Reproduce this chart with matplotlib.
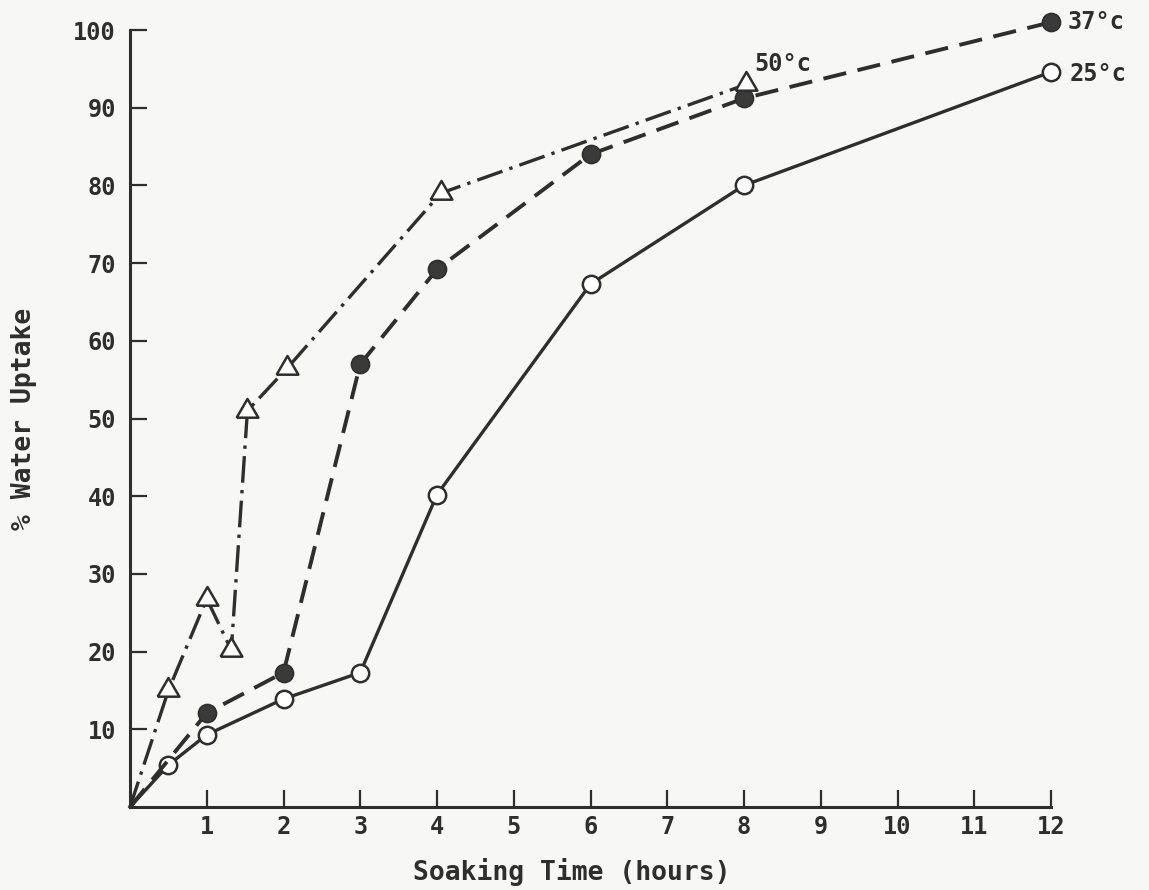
import numpy as np
import matplotlib
matplotlib.use("Agg")
from matplotlib import pyplot as plt

# soaking time (hours) and % water uptake
t_25 = [0, 0.5, 1, 2, 3, 4, 6, 8, 12]
w_25 = [0, 5.4, 9.3, 13.9, 17.3, 40.2, 67.3, 80.0, 94.6]

t_37 = [0, 1, 2, 3, 4, 6, 8, 12]
w_37 = [0, 12.1, 17.3, 57.0, 69.2, 84.0, 91.2, 101.0]

t_50 = [0, 0.5, 1, 1.32, 1.53, 2.05, 4.05, 8.03]
w_50 = [0, 15.0, 26.8, 20.2, 51.0, 56.5, 79.0, 93.0]

x_ticks = list(range(1, 13))
y_ticks = list(range(10, 101, 10))

INK = '#2e2e2e'
BG = '#f7f7f5'
FONT = 'DejaVu Sans Mono'

plt.rcParams['font.family'] = FONT
plt.rcParams['font.weight'] = 'bold'
plt.rcParams['axes.labelweight'] = 'bold'

fig = plt.figure(figsize=(11.49, 8.90), dpi=100, facecolor=BG)
ax = fig.add_axes([130/1149, 1 - 807/890, (1051 - 130)/1149, (807 - 30)/890])
ax.set_facecolor(BG)

# equilateral-ish open triangle
tri = [(-1, -0.57), (1, -0.57), (0, 1.15), (-1, -0.57)]

# no marker at the origin, lines start there though
ax.plot(t_25, w_25, color=INK, lw=2.4, marker='o', ms=12.5, markevery=slice(1, None),
        mfc='white', mec=INK, mew=1.8, clip_on=False, zorder=3)
ax.plot(t_37, w_37, color=INK, lw=2.8, dashes=(6, 3), marker='o', ms=13,
        markevery=slice(1, None), mfc='#3a3a3a', mec=INK, mew=1.2,
        clip_on=False, zorder=3)
ax.plot(t_50, w_50, color=INK, lw=2.4, dashes=(8, 2.2, 1, 2.2), marker=tri,
        ms=18, markevery=slice(1, None), mfc='white', mec=INK, mew=1.8,
        clip_on=False, zorder=4)

ax.text(12.22, 101.0, '37°c', fontsize=17, color=INK, va='center', ha='left')
ax.text(12.24, 94.4, '25°c', fontsize=17, color=INK, va='center', ha='left')
ax.text(8.14, 95.6, '50°c', fontsize=17, color=INK, va='center', ha='left')

ax.set_xlim(0, 12)
ax.set_ylim(0, 100)
ax.set_xticks(x_ticks)
ax.set_yticks(y_ticks)
ax.tick_params(axis='both', direction='in', length=12, width=1.6, colors=INK,
               labelsize=17)
ax.tick_params(axis='y', pad=10)
ax.tick_params(axis='x', pad=6)

for s in ['top', 'right']:
    ax.spines[s].set_visible(False)
for s in ['left', 'bottom']:
    ax.spines[s].set_linewidth(2.2)
    ax.spines[s].set_color(INK)

ax.set_xlabel('Soaking Time (hours)', fontsize=19, color=INK)
ax.set_ylabel('% Water Uptake', fontsize=19, color=INK)
ax.xaxis.set_label_coords(0.48, -0.066)
ax.yaxis.set_label_coords(-0.101, 0.5)

fig.savefig('out.png', dpi=100, facecolor=BG)
